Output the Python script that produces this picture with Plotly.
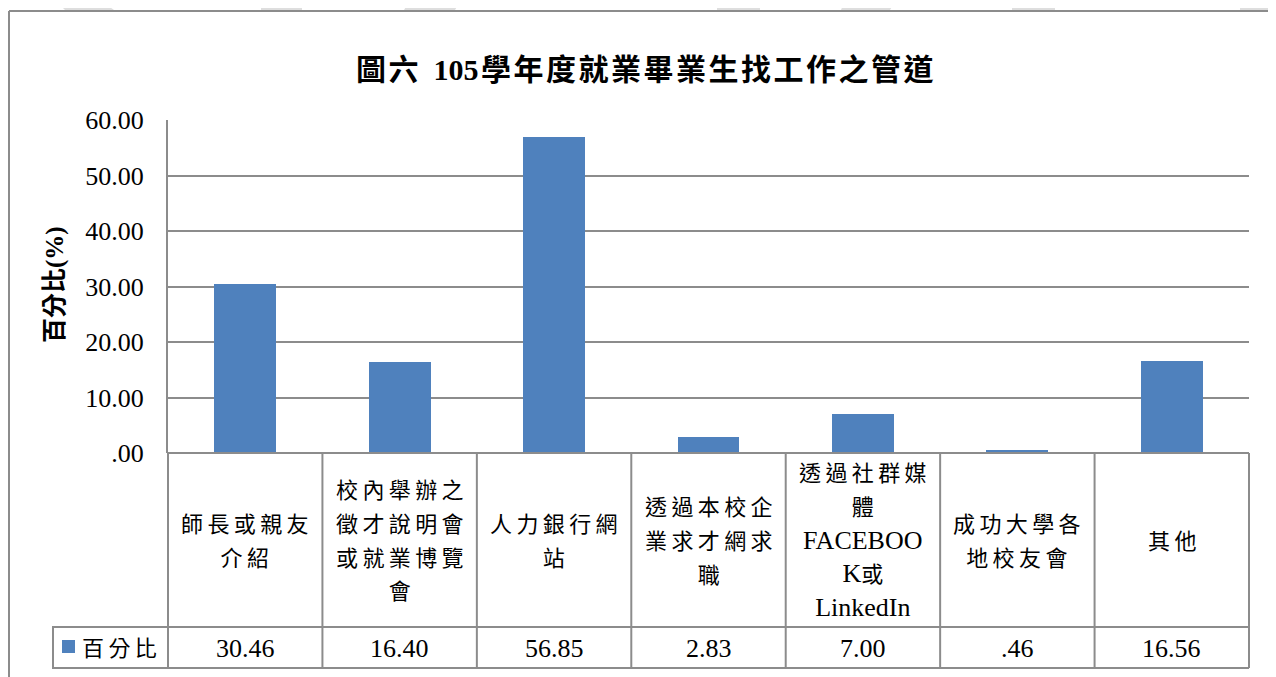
import plotly.graph_objects as go

# ---------------- data ----------------
title_text = "圖六 105學年度就業畢業生找工作之管道"
y_title = "百分比(%)"
series_name = "百分比"
categories = [
    "師長或親友<br>介紹",
    "校內舉辦之<br>徵才說明會<br>或就業博覽<br>會",
    "人力銀行網<br>站",
    "透過本校企<br>業求才網求<br>職",
    "透過社群媒<br>體<br>FACEBOO<br>K或<br>LinkedIn",
    "成功大學各<br>地校友會",
    "其他",
]
values = [30.46, 16.40, 56.85, 2.83, 7.00, 0.46, 16.56]
y_tick_values = [0, 10, 20, 30, 40, 50, 60]
y_tick_labels = [".00", "10.00", "20.00", "30.00", "40.00", "50.00", "60.00"]

# ---------------- layout constants ----------------
OFF = 8                      # page body margin
W, H = 1276 - OFF, 677 - OFF
L, R, T, B = 168 - OFF, 27, 120 - OFF, 224
PW, PH = W - L - R, H - T - B
BAR_COLOR = "#4F81BD"
LINE_COLOR = "#8C8C8C"
SERIF = "Liberation Serif, Times New Roman, Noto Sans CJK TC, serif"
n = len(categories)


def px(xp):
    """page x pixel -> paper fraction"""
    return (xp - OFF - L) / PW


def py(yp):
    """page y pixel -> paper fraction"""
    return (H + OFF - B - yp) / PH


def fmt(v):
    s = f"{v:.2f}"
    return s[1:] if s.startswith("0.") else s


def is_cjk(ch):
    return ord(ch) > 0x2E80


def spaced(s, sep="\u2009"):
    out = []
    for i, ch in enumerate(s):
        out.append("\u2002" if ch == " " else ch)
        if i < len(s) - 1 and ch != " " and s[i + 1] != " " and (is_cjk(ch) or is_cjk(s[i + 1])):
            out.append(sep)
    return "".join(out)


def cjk_small(s, size):
    """wrap CJK runs in a smaller span (Ming fonts draw CJK smaller than the em)"""
    out, run = [], ""
    for ch in s:
        if is_cjk(ch):
            run += ch
        else:
            if run:
                out.append(f'<span style="font-size:{size}px">{spaced(run)}</span>')
                run = ""
            out.append(ch)
    if run:
        out.append(f'<span style="font-size:{size}px">{spaced(run)}</span>')
    return "".join(out)


fig = go.Figure()
fig.add_trace(go.Bar(
    x=list(range(n)), y=values, name=series_name, width=0.4,
    marker=dict(color=BAR_COLOR, line=dict(width=0)),
    showlegend=False, hoverinfo="x+y",
))

shapes = []
annotations = []

# watermark strips at top (decoration)
wm = [
    [(55, 0), (100, 0), (114, 10), (65, 10)],
    [(261, 0), (302, 0), (302, 10), (261, 10)],
    [(410, 0), (461, 0), (455, 10), (404, 10)],
    [(717, 0), (760, 0), (760, 10), (717, 10)],
    [(845, 0), (896, 0), (890, 10), (841, 10)],
    [(1012, 0), (1055, 0), (1055, 10), (1012, 10)],
    [(1240, 0), (1290, 0), (1290, 10), (1240, 10)],
]
for poly in wm:
    path = "M " + " L ".join(f"{px(a):.5f},{py(b):.5f}" for a, b in poly) + " Z"
    shapes.append(dict(type="path", path=path, xref="paper", yref="paper",
                       fillcolor="#DEDEDE", line=dict(width=0), layer="below"))

# outer frame
shapes.append(dict(type="line", xref="paper", yref="paper", x0=px(9), x1=px(1290), y0=py(11), y1=py(11),
                   line=dict(color=LINE_COLOR, width=2)))
shapes.append(dict(type="line", xref="paper", yref="paper", x0=px(9), x1=px(9), y0=py(11), y1=py(690),
                   line=dict(color=LINE_COLOR, width=2)))

# data table
row_div = py(627)
tbl_bot = py(668)
for yy in (0, row_div, tbl_bot):
    shapes.append(dict(type="line", xref="x domain", yref="paper", x0=0, x1=1, y0=yy, y1=yy,
                       line=dict(color=LINE_COLOR, width=2)))
for k in range(n + 1):
    shapes.append(dict(type="line", xref="x domain", yref="paper", x0=k / n, x1=k / n, y0=0, y1=tbl_bot,
                       line=dict(color=LINE_COLOR, width=2)))
# legend cell
shapes.append(dict(type="rect", xref="paper", yref="paper", x0=px(53), x1=0, y0=tbl_bot, y1=row_div,
                   line=dict(color=LINE_COLOR, width=2), fillcolor="rgba(0,0,0,0)"))
shapes.append(dict(type="rect", xref="paper", yref="paper", x0=px(62), x1=px(75), y0=py(653), y1=py(640),
                   line=dict(width=0), fillcolor=BAR_COLOR))
annotations.append(dict(text=cjk_small(series_name, 22), xref="paper", yref="paper", x=px(80), y=py(648),
                        xanchor="left", yanchor="middle", showarrow=False,
                        font=dict(family=SERIF, size=26, color="black")))

for i, (c, v) in enumerate(zip(categories, values)):
    annotations.append(dict(text="<br>".join(cjk_small(p, 22) for p in c.split("<br>")),
                            xref="x", yref="paper", x=i, y=py(541),
                            xanchor="center", yanchor="middle", showarrow=False,
                            font=dict(family=SERIF, size=26, color="black")))
    annotations.append(dict(text=fmt(v), xref="x", yref="paper", x=i, y=py(648),
                            xanchor="center", yanchor="middle", showarrow=False,
                            font=dict(family=SERIF, size=26, color="black")))

# y-axis title
annotations.append(dict(text="<b>" + y_title + "</b>", xref="paper", yref="paper", x=px(55), y=py(285),
                        xanchor="center", yanchor="middle", showarrow=False, textangle=-90,
                        font=dict(family=SERIF, size=25, color="black")))
# chart title
annotations.append(dict(text="<b>" + spaced(title_text, "\u200a") + "</b>", xref="paper", yref="paper",
                        x=px(645), y=py(69),
                        xanchor="center", yanchor="middle", showarrow=False,
                        font=dict(family=SERIF, size=30, color="black")))

fig.update_layout(
    width=W, height=H,
    margin=dict(l=L, r=R, t=T, b=B, pad=0),
    paper_bgcolor="white", plot_bgcolor="white",
    shapes=shapes, annotations=annotations,
    showlegend=False, bargap=0,
    xaxis=dict(range=[-0.5, n - 0.5], showticklabels=False, showgrid=False, zeroline=False,
               showline=False, fixedrange=True),
    yaxis=dict(range=[0, 60], tickvals=y_tick_values, ticktext=y_tick_labels,
               showgrid=True, gridcolor=LINE_COLOR, gridwidth=2, zeroline=False,
               showline=True, linecolor=LINE_COLOR, linewidth=2, ticks="",
               ticklabelstandoff=17, fixedrange=True,
               tickfont=dict(family=SERIF, size=26, color="black")),
)

fig.write_html("out.html")
